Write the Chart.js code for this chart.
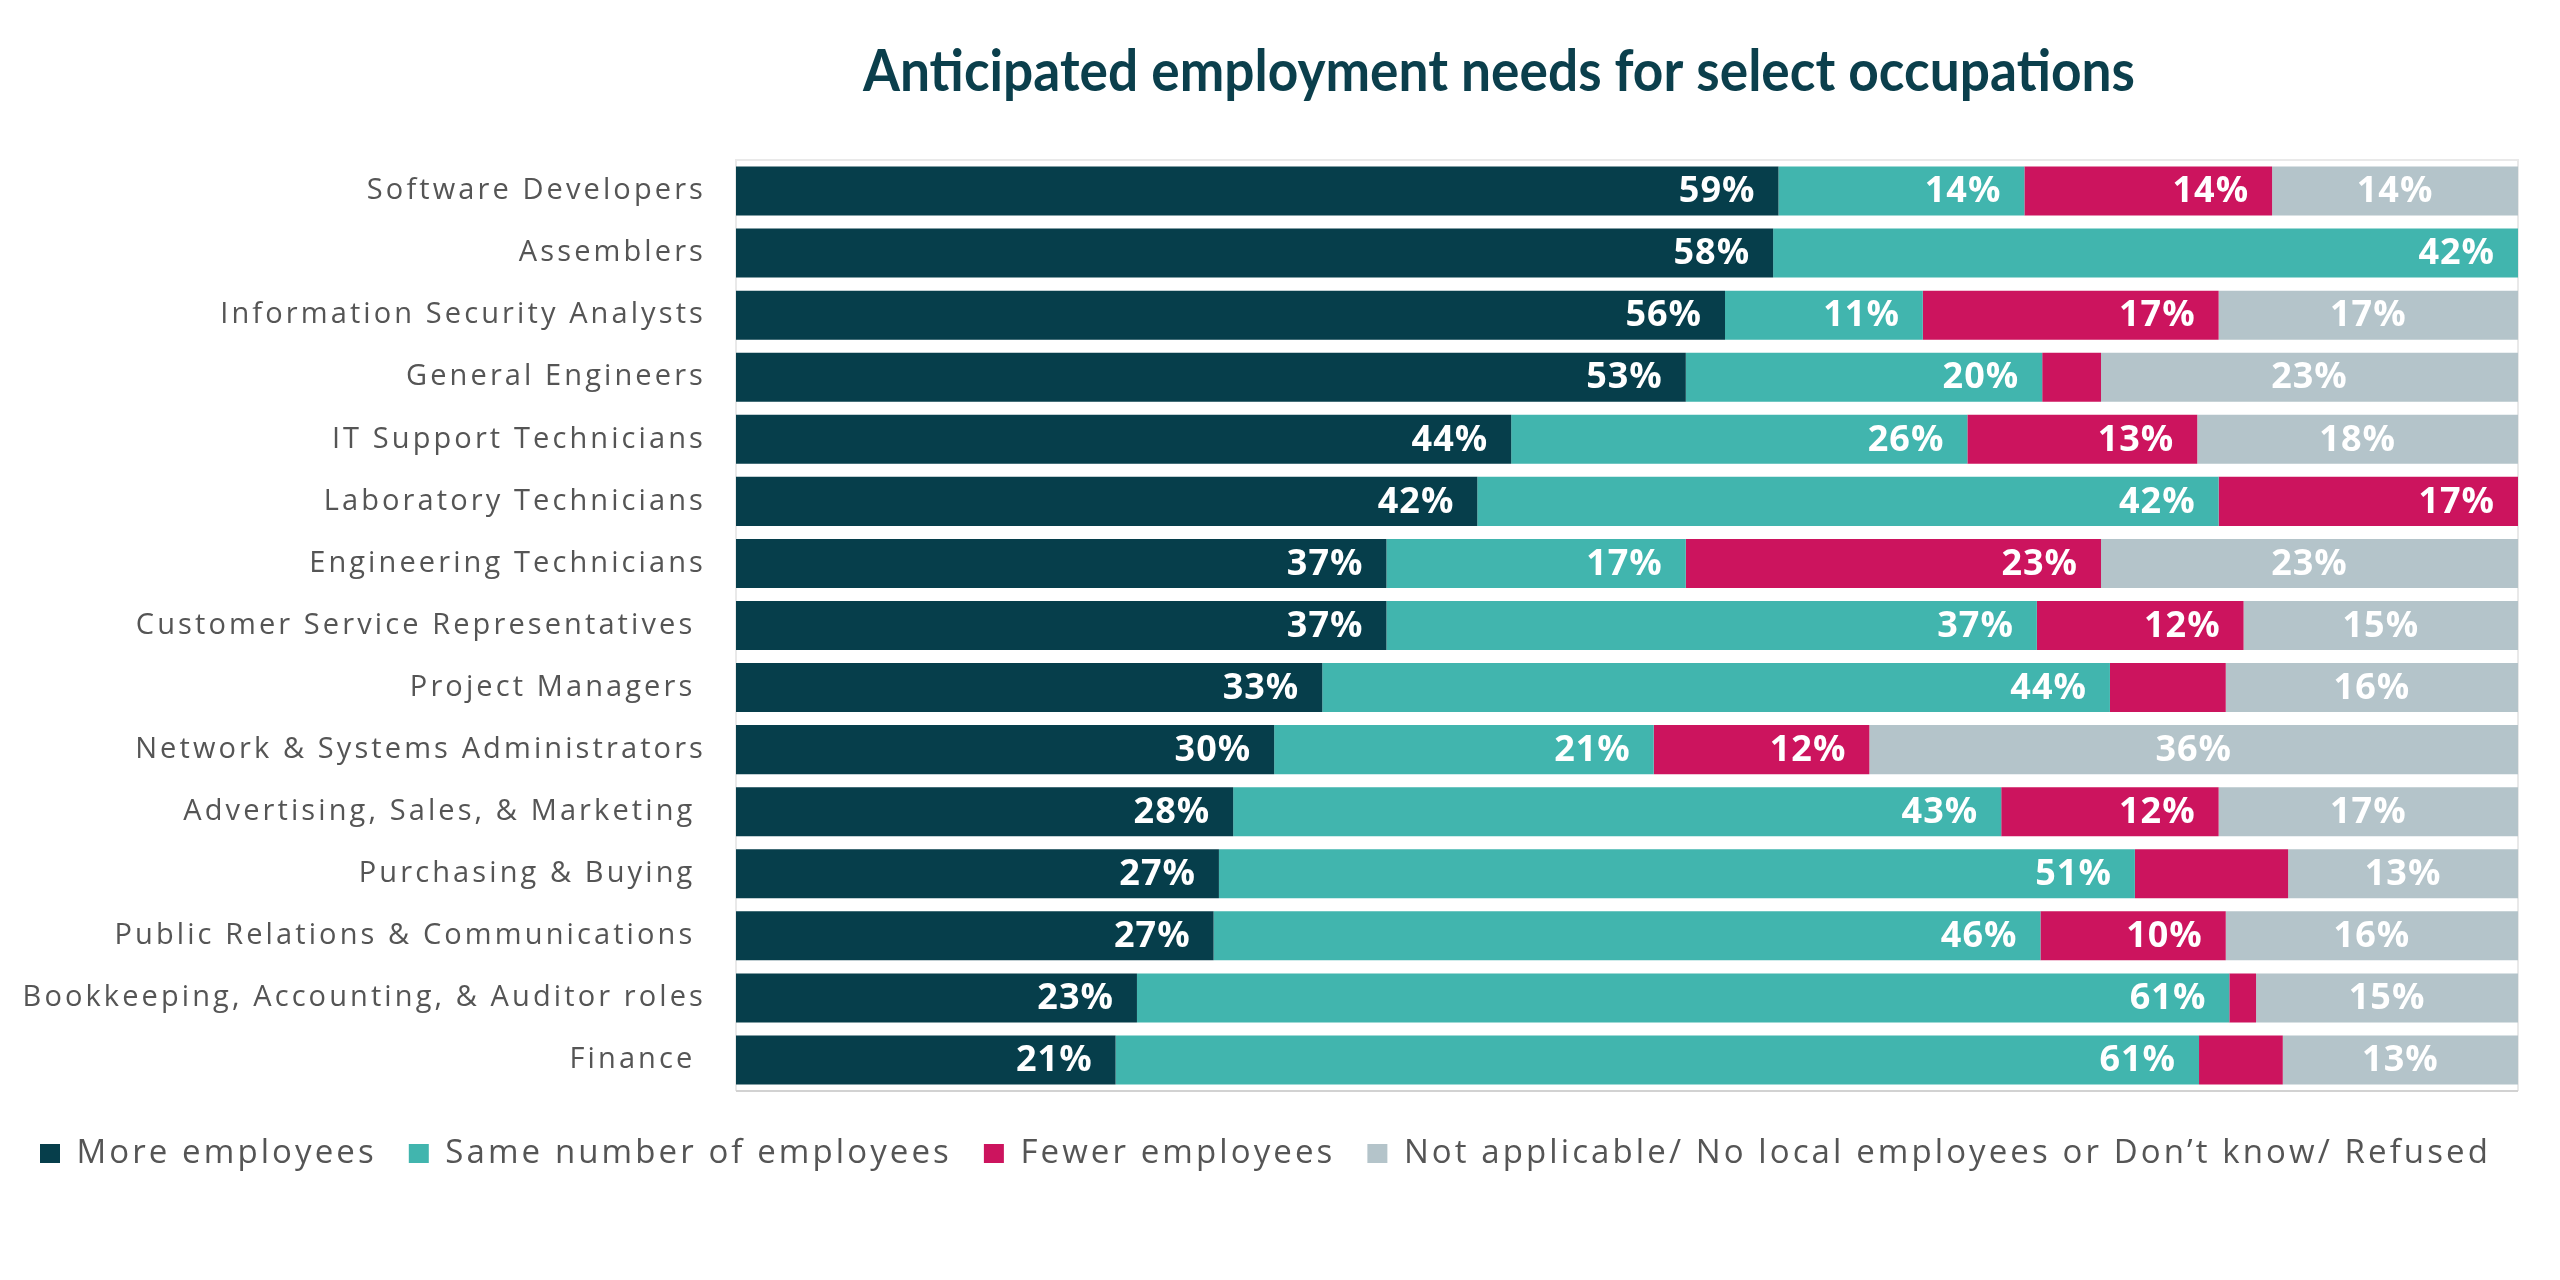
<!DOCTYPE html>
<html>
<head>
<meta charset="utf-8">
<script src="https://cdn.jsdelivr.net/npm/chart.js@4.4.1/dist/chart.umd.min.js"></script>
<style>
  html, body { margin: 0; padding: 0; background: #ffffff; }
  #wrap { width: 2560px; height: 1280px; }
</style>
</head>
<body>
<div id="wrap"><canvas id="chart"></canvas></div>
<script>
// categories (trailing spaces are in the original labels)
const categories = [
  "Software Developers",
  "Assemblers",
  "Information Security Analysts",
  "General Engineers",
  "IT Support Technicians",
  "Laboratory Technicians",
  "Engineering Technicians",
  "Customer Service Representatives ",
  "Project Managers ",
  "Network & Systems Administrators",
  "Advertising, Sales, & Marketing ",
  "Purchasing & Buying ",
  "Public Relations & Communications ",
  "Bookkeeping, Accounting, & Auditor roles",
  "Finance "
];

// shares in percent
const moreEmployees  = [58.5, 58.2, 55.5, 53.3, 43.5, 41.6, 36.5, 36.5, 32.9, 30.2, 27.9, 27.1, 26.8, 22.5, 21.3];
const sameEmployees  = [13.8, 41.8, 11.1, 20.0, 25.6, 41.6, 16.8, 36.5, 44.2, 21.3, 43.1, 51.4, 46.4, 61.3, 60.8];
const fewerEmployees = [13.9, 0, 16.6, 3.3, 12.9, 16.8, 23.3, 11.6, 6.5, 12.1, 12.2, 8.6, 10.4, 1.5, 4.7];
const notApplicable  = [13.8, 0, 16.8, 23.4, 18.0, 0, 23.4, 15.4, 16.4, 36.4, 16.8, 12.9, 16.4, 14.7, 13.2];

const seriesNames = [
  "More employees",
  "Same number of employees",
  "Fewer employees",
  "Not applicable/ No local employees or Don\u2019t know/ Refused"
];

const TITLE = "Anticipated employment needs for select occupations";

// spacing for the regular text (ticks + legend)
const spacingPlugin = {
  id: "spacing",
  beforeLayout(chart) { chart.ctx.letterSpacing = "3.1px"; },
  beforeDraw(chart) { chart.ctx.letterSpacing = "3.1px"; }
};

// thin box round the plot area
const framePlugin = {
  id: "frame",
  beforeDatasetsDraw(chart) {
    const { ctx, chartArea: a } = chart;
    ctx.save();
    ctx.lineWidth = 2;
    ctx.strokeStyle = "#e9e9e9";
    ctx.beginPath();
    ctx.moveTo(a.left, a.bottom);
    ctx.lineTo(a.left, a.top);
    ctx.lineTo(a.right, a.top);
    ctx.lineTo(a.right, a.bottom);
    ctx.stroke();
    ctx.strokeStyle = "#d2d2d2";
    ctx.beginPath();
    ctx.moveTo(a.left, a.bottom);
    ctx.lineTo(a.right, a.bottom);
    ctx.stroke();
    ctx.restore();
  }
};

// percentage labels inside the bars
const valueLabels = {
  id: "valueLabels",
  afterDatasetsDraw(chart) {
    const ctx = chart.ctx;
    ctx.save();
    ctx.letterSpacing = "1px";
    ctx.font = "bold 36px 'Open Sans'";
    ctx.fillStyle = "#ffffff";
    ctx.textBaseline = "middle";
    chart.data.datasets.forEach((ds, i) => {
      const meta = chart.getDatasetMeta(i);
      meta.data.forEach((bar, j) => {
        const v = Math.round(ds.data[j]);
        if (v < 10) return;
        const txt = v + "%";
        if (i === 3) {
          ctx.textAlign = "center";
          ctx.fillText(txt, (bar.x + bar.base) / 2, bar.y + 1);
        } else {
          ctx.textAlign = "right";
          ctx.fillText(txt, bar.x - 23, bar.y + 1);
        }
      });
    });
    ctx.restore();
  }
};

// title, squeezed a little to get the condensed look
const titlePlugin = {
  id: "titleText",
  afterDraw(chart) {
    const ctx = chart.ctx;
    ctx.save();
    ctx.letterSpacing = "0px";
    ctx.font = "bold 58px Lato";
    ctx.fillStyle = "#0b3f4c";
    ctx.textAlign = "left";
    ctx.textBaseline = "alphabetic";
    const w = ctx.measureText(TITLE).width;
    const sx = Math.min(1, 1272 / w);
    ctx.translate(863, 91);
    ctx.scale(sx, 1);
    ctx.fillText(TITLE, 0, 0);
    ctx.restore();
  }
};

const colors = ["#063e4b", "#41b5ae", "#cc145e", "#b4c4ca"];
const values = [moreEmployees, sameEmployees, fewerEmployees, notApplicable];

new Chart(document.getElementById("chart"), {
  type: "bar",
  data: {
    labels: categories,
    datasets: values.map((d, i) => ({
      label: seriesNames[i],
      data: d,
      backgroundColor: colors[i],
      borderWidth: 0,
      barPercentage: 0.79,
      categoryPercentage: 1
    }))
  },
  options: {
    indexAxis: "y",
    responsive: true,
    maintainAspectRatio: false,
    animation: false,
    layout: { padding: { top: 160, left: 8, right: 0, bottom: 100 } },
    scales: {
      x: {
        stacked: true,
        min: 0,
        max: 100,
        grid: { display: false },
        border: { display: false },
        ticks: { display: false },
        afterFit(s) { s.height = 14; }
      },
      y: {
        stacked: true,
        grid: { display: false },
        border: { display: false },
        ticks: {
          color: "#555555",
          padding: 22,
          font: { family: "'Open Sans'", size: 29 }
        },
        afterFit(s) { s.width = 728; }
      },
      // empty strip on the right so the legend can use the full width
      yRight: {
        type: "category",
        position: "right",
        grid: { display: false },
        border: { display: false },
        ticks: { display: false },
        afterFit(s) { s.width = 42; }
      }
    },
    plugins: {
      tooltip: { enabled: false },
      title: { display: false },
      legend: {
        position: "bottom",
        align: "start",
        labels: {
          boxWidth: 20,
          boxHeight: 19,
          padding: 32,
          color: "#555555",
          font: { family: "'Open Sans'", size: 33 }
        }
      }
    }
  },
  plugins: [spacingPlugin, framePlugin, valueLabels, titlePlugin]
});
</script>
</body>
</html>
